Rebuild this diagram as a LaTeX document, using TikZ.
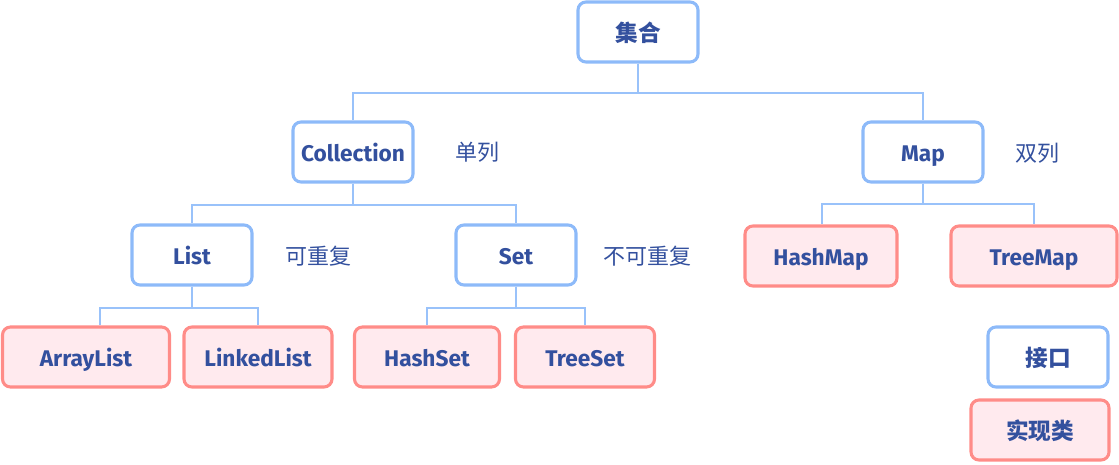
\documentclass[tikz,border=0pt]{standalone}
\usepackage{fontspec}
\setmainfont{Fira Sans}
\newfontfamily\cjk{Noto Sans CJK SC}
\usetikzlibrary{calc}
\definecolor{ifblue}{HTML}{8DBAF9}
\definecolor{lineblue}{HTML}{99C2FA}
\definecolor{impred}{HTML}{FF8C88}
\definecolor{impfill}{HTML}{FFEAEE}
\definecolor{txt}{HTML}{33509E}
\tikzset{
  base/.style={rounded corners=6pt, line width=2.3pt, text=txt, font=\fontsize{17}{20}\selectfont\bfseries, inner sep=0pt, minimum height=60*0.75pt, text height=15pt, text depth=1.5pt},
  iface/.style={base, draw=ifblue, fill=white},
  impl/.style={base, draw=impred, fill=impfill},
  conn/.style={draw=lineblue, line width=1.5pt},
  note/.style={text=txt, font=\cjk\fontsize{16.5}{19}\selectfont}
}
\begin{document}
\begin{tikzpicture}[x=0.75pt,y=-0.75pt]
\useasboundingbox (0,0) rectangle (1119,464);
\node[iface, minimum width=120*0.75pt] (top) at (638,32) {\cjk\bfseries 集合};
\node[iface, minimum width=120*0.75pt] (coll) at (353,152) {Collection};
\node[iface, minimum width=120*0.75pt] (map) at (923,152) {Map};
\node[iface, minimum width=120*0.75pt] (list) at (192,255) {List};
\node[iface, minimum width=120*0.75pt] (set) at (516,255) {Set};
\node[impl, minimum width=152*0.75pt] (hm) at (821,256) {HashMap};
\node[impl, minimum width=166*0.75pt] (tm) at (1034,256) {TreeMap};
\node[impl, minimum width=167*0.75pt] (al) at (86,357) {ArrayList};
\node[impl, minimum width=148*0.75pt] (ll) at (258,357) {LinkedList};
\node[impl, minimum width=145*0.75pt] (hs) at (427,357) {HashSet};
\node[impl, minimum width=139*0.75pt] (ts) at (585,357) {TreeSet};
\node[iface, minimum width=120*0.75pt] (jk) at (1048,357) {\cjk\bfseries 接口};
\node[impl, minimum width=138*0.75pt] (sx) at (1040,430) {\cjk\bfseries 实现类};
\node[note] (n1) at (477,152) {单列};
\node[note] (n2) at (1037,153) {双列};
\node[note] (n3) at (318,256) {可重复};
\node[note] (n4) at (647,256) {不可重复};
\draw[conn] (top.south) -- ++(0,29) -| (coll.north);
\draw[conn] (top.south) -- ++(0,29) -| (map.north);
\draw[conn] (coll.south) -- ++(0,21) -| (list.north);
\draw[conn] (coll.south) -- ++(0,21) -| (set.north);
\draw[conn] (map.south) -- ++(0,20) -| ($(hm.north)+(1,0)$);
\draw[conn] (map.south) -- ++(0,20) -| (tm.north);
\draw[conn] (list.south) -- ++(0,21) -| ($(al.north)+(14,0)$);
\draw[conn] (list.south) -- ++(0,21) -| (ll.north);
\draw[conn] (set.south) -- ++(0,21) -| (hs.north);
\draw[conn] (set.south) -- ++(0,21) -| (ts.north);
\end{tikzpicture}
\end{document}
